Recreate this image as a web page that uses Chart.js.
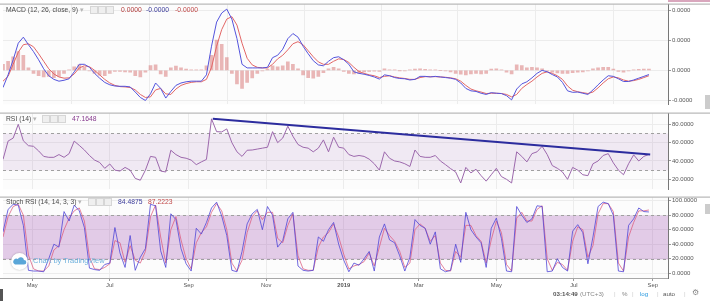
<!DOCTYPE html>
<html>
<head>
<meta charset="utf-8">
<script src="https://cdn.jsdelivr.net/npm/chart.js@4.4.0/dist/chart.umd.min.js"></script>
<style>
body{margin:0;background:#fff;font-family:"Liberation Sans",Arial,sans-serif;}
#wrap{position:relative;width:710px;height:301px;overflow:hidden;background:#fff;}
canvas{position:absolute;left:0;}
.t{position:absolute;white-space:nowrap;font-size:6.75px;line-height:8px;color:#4a4a4a;}
.bx{position:absolute;width:6px;height:6px;border:1px solid #d6d6d6;background:#efefef;}
.st{position:absolute;top:290px;white-space:nowrap;font-size:6.2px;line-height:8px;color:#888;}
</style>
</head>
<body>
<div id="wrap">
  <canvas id="chart_macd" width="710" height="109" style="top:0px"></canvas>
  <canvas id="chart_rsi" width="710" height="85" style="top:109px"></canvas>
  <canvas id="chart_stoch" width="710" height="98" style="top:193px"></canvas>

  <!-- pane legends -->
  <div class="t" style="left:6px;top:6px">MACD (12, 26, close, 9) <span style="color:#b5b5b5">▾</span></div>
  <div class="bx" style="left:90px;top:6px"></div><div class="bx" style="left:98px;top:6px"></div><div class="bx" style="left:106px;top:6px"></div>
  <div class="t" style="left:121px;top:6px;color:#b23b3b">0.0000</div>
  <div class="t" style="left:146px;top:6px;color:#3a3a9a">-0.0000</div>
  <div class="t" style="left:175px;top:6px;color:#c04848">-0.0000</div>

  <div class="t" style="left:6px;top:115px">RSI (14) <span style="color:#b5b5b5">▾</span></div>
  <div class="bx" style="left:42px;top:115px"></div><div class="bx" style="left:50px;top:115px"></div><div class="bx" style="left:58px;top:115px"></div>
  <div class="t" style="left:72px;top:115px;color:#873a8e">47.1648</div>

  <div class="t" style="left:6px;top:198px">Stoch RSI (14, 14, 3, 3) <span style="color:#b5b5b5">▾</span></div>
  <div class="bx" style="left:88px;top:198px"></div><div class="bx" style="left:96px;top:198px"></div><div class="bx" style="left:104px;top:198px"></div>
  <div class="t" style="left:118px;top:198px;color:#3a3a9a">84.4875</div>
  <div class="t" style="left:148px;top:198px;color:#c04848">87.2223</div>

  <!-- watermark -->
  <div style="position:absolute;left:11px;top:253px;width:17px;height:17px;border-radius:50%;background:#fff;box-shadow:0 0 2px rgba(0,0,0,.3)">
    <svg width="17" height="17" viewBox="0 0 17 17"><path d="M4 11.5h9a2.3 2.3 0 0 0 0-4.6 3.3 3.3 0 0 0-6.2-.9A2.6 2.6 0 0 0 4 11.5z" fill="#5aa6d8"/></svg>
  </div>
  <div class="t" style="left:33px;top:257px;font-size:7.5px;color:#6fb1dd">Chart by TradingView</div>

  <!-- status bar -->
  <div class="st" style="left:553px;color:#555;font-weight:bold">03:14:49</div>
  <div class="st" style="left:580px">(UTC+3)</div>
  <div class="st" style="left:614px;color:#ccc">|</div>
  <div class="st" style="left:622px">%</div>
  <div class="st" style="left:632px;color:#ccc">|</div>
  <div class="st" style="left:640px;color:#2a9ae0">log</div>
  <div class="st" style="left:657px;color:#ccc">|</div>
  <div class="st" style="left:663px;color:#555">auto</div>
  <div class="st" style="left:684px;color:#ccc">|</div>
  <div class="st" style="left:692px;font-size:8px;top:289px">⚙</div>

  <div style="position:absolute;left:0;top:289px;width:3px;height:12px;background:#555"></div>
  <div style="position:absolute;left:668px;top:0;width:42px;height:2px;background:#d9a7bd"></div>
  <div style="position:absolute;left:705px;top:95px;width:5px;height:14px;background:#ccc"></div>
  <div style="position:absolute;left:705px;top:204px;width:5px;height:10px;background:#ccc"></div>
</div>

<script>
var FONT = '"Liberation Sans", Arial, sans-serif';
var STEP_DAYS = 4;          // one sample every 4 days, starting 8 Apr 2018

// time axis (days since 8 Apr 2018)
var monthTickDays   = [23, 84, 146, 207, 268, 327, 388, 449, 511];
var monthTickLabels = ["May", "Jul", "Sep", "Nov", "2019", "Mar", "May", "Jul", "Sep"];

// MACD pane, in units of 0.00001
var macdLine = [-0.57,-0.15,0.35,0.9,1.1,0.85,0.62,0.35,0.05,-0.18,
  -0.3,-0.36,-0.33,-0.28,-0.05,0.2,0.2,0.1,-0.1,-0.26,
  -0.4,-0.48,-0.52,-0.53,-0.53,-0.55,-0.72,-0.9,-1.0,-0.78,
  -0.42,-0.6,-0.92,-0.7,-0.5,-0.42,-0.38,-0.36,-0.36,-0.36,
  -0.15,0.8,1.6,1.9,2.03,1.7,1.05,0.2,0.08,0.08,
  0.08,0.08,0.1,0.42,0.5,0.7,1.05,1.22,1.1,0.8,
  0.55,0.32,0.18,0.15,0.3,0.42,0.45,0.35,0.2,-0.05,
  -0.1,-0.13,-0.17,-0.22,-0.29,-0.15,-0.18,-0.24,-0.27,-0.28,
  -0.32,-0.3,-0.2,-0.2,-0.22,-0.2,-0.22,-0.24,-0.26,-0.3,
  -0.42,-0.6,-0.68,-0.7,-0.76,-0.8,-0.74,-0.76,-0.77,-0.84,
  -0.98,-0.62,-0.45,-0.38,-0.25,-0.1,0.0,-0.05,-0.14,-0.22,
  -0.4,-0.68,-0.73,-0.72,-0.76,-0.8,-0.65,-0.48,-0.32,-0.18,
  -0.2,-0.28,-0.37,-0.37,-0.32,-0.26,-0.2,-0.14];
var signalLine = [-0.36,-0.2,0.2,0.6,0.85,0.88,0.78,0.55,0.3,0.05,
  -0.12,-0.22,-0.26,-0.25,-0.12,0.08,0.15,0.12,0.0,-0.15,
  -0.3,-0.42,-0.5,-0.54,-0.55,-0.57,-0.65,-0.8,-0.9,-0.88,
  -0.65,-0.6,-0.78,-0.8,-0.62,-0.5,-0.44,-0.4,-0.38,-0.38,
  -0.3,0.1,0.8,1.35,1.7,1.78,1.5,0.9,0.4,0.18,
  0.1,0.08,0.08,0.2,0.38,0.5,0.68,0.88,0.95,0.85,
  0.65,0.45,0.28,0.2,0.2,0.3,0.38,0.36,0.26,0.1,
  -0.04,-0.1,-0.15,-0.18,-0.24,-0.2,-0.18,-0.22,-0.25,-0.27,
  -0.3,-0.3,-0.24,-0.21,-0.21,-0.21,-0.22,-0.23,-0.25,-0.28,
  -0.36,-0.5,-0.62,-0.68,-0.72,-0.77,-0.76,-0.76,-0.77,-0.8,
  -0.88,-0.8,-0.6,-0.47,-0.36,-0.22,-0.1,-0.05,-0.1,-0.18,
  -0.3,-0.52,-0.66,-0.71,-0.74,-0.77,-0.72,-0.58,-0.42,-0.28,
  -0.22,-0.25,-0.32,-0.36,-0.34,-0.3,-0.24,-0.18];
var macdHist = [0.2,0.3,0.45,0.62,0.5,0.08,-0.1,-0.18,-0.22,-0.2,
  -0.24,-0.2,-0.1,0.02,0.12,0.18,0.1,-0.02,-0.1,-0.16,
  -0.18,-0.1,-0.04,-0.04,-0.05,-0.06,-0.18,-0.22,-0.06,0.16,
  0.18,-0.12,-0.2,0.08,0.14,0.08,0.04,0.02,0.01,0.02,
  0.15,0.5,1.0,0.86,0.42,-0.1,-0.45,-0.6,-0.4,-0.25,
  -0.1,-0.02,0.04,0.15,0.12,0.15,0.28,0.2,0.05,-0.15,
  -0.24,-0.26,-0.2,-0.08,0.05,0.1,0.05,-0.04,-0.1,-0.12,
  -0.1,-0.05,-0.04,-0.03,-0.04,0.05,0.02,0.01,-0.01,-0.02,
  0.02,0.04,0.05,0.03,0.01,0.01,0.0,-0.02,-0.05,-0.1,
  -0.13,-0.15,-0.12,-0.1,-0.12,-0.1,0.04,0.05,0.02,-0.06,
  -0.12,0.18,0.16,0.08,0.1,0.08,0.05,-0.02,-0.06,-0.09,
  -0.1,-0.1,-0.08,-0.06,-0.05,-0.02,0.05,0.08,0.1,0.1,
  0.04,-0.04,-0.06,-0.02,0.02,0.03,0.04,0.04];
var macdTicks = [-1, 0, 1, 2];

// RSI pane
var rsi = [41.7,61.7,65,80,62,56.7,56,51,45,44,
  44,47,44,48,61.7,57,52,46,41,38.4,
  32,36.7,30,29,33,30,21,19,30,45,
  44,29,28,51.7,47,44,43,41,36,39,
  41.7,86,72,71.7,75,60,50,45,51.7,52,
  53,54,55,72,60,65,78,67,58,55,
  54,50,54,63,50,66,55,54,47,45,
  46,45,42,37,30,50,43,40,39,37,
  34,52,45,44,44,46,40,36,31.7,28,
  16,33,27,31,24,18,25,32,23,20,
  16,50,45,39,48,50,56,47,35,32,
  28,20,33,30,25,24,37,40,46,48,
  38,30,25,37,46.7,40,45,47.2];
var rsiTrendDays = [165, 509];
var rsiTrendValues = [86, 47.2];
var rsiBand = [30, 70];
var rsiTicks = [20, 40, 60, 80];

// Stoch RSI pane
var stochK = [57,88,95,94,66,4,3,3,2,20,
  40,36,85,72,94,86,63,7,5,4,
  12,14,63,28,8,52,4,22,34,95,
  93,31,8,82,74,34,13,3,62,54,
  70,90,98,79,52,4,2,30,68,82,
  88,60,92,80,36,45,75,84,10,4,
  3,4,50,44,60,70,40,18,2,14,
  11,20,30,3,50,68,46,42,24,3,
  22,74,66,62,40,57,6,2,4,40,
  15,84,60,50,42,8,62,76,48,3,
  2,92,80,70,75,93,92,2,3,20,
  8,3,58,67,56,13,50,92,98,96,
  80,3,2,66,75,90,85,84.5];
var stochD = [50,78,92,95,80,25,6,3,3,10,
  32,38,60,76,86,90,72,22,6,5,
  8,13,45,42,15,38,18,14,30,78,
  94,50,14,60,78,46,20,6,42,56,
  64,84,96,86,60,14,3,18,56,78,
  86,74,84,84,48,42,66,82,24,6,
  4,4,36,50,56,68,50,26,6,10,
  12,16,28,10,36,62,52,44,30,8,
  14,60,68,62,44,52,14,4,3,30,
  22,66,66,52,44,14,46,72,56,12,
  3,76,84,72,72,88,93,20,4,15,
  12,4,44,64,60,22,38,82,96,96,
  85,14,3,50,70,86,86,87.2];
var stochBand = [20, 80];
var stochTicks = [0, 20, 40, 60, 80, 100];

function points(values) {
    return values.map(function(v, i){ return {x: i * STEP_DAYS, y: v}; });
}

// chart area background, overbought/oversold band, pane separators
var paneDecor = {
    id: 'paneDecor',
    beforeDraw: function(chart) {
        var a = chart.chartArea, ctx = chart.ctx;
        ctx.save();
        ctx.fillStyle = '#fcfcfc';
        ctx.fillRect(a.left, a.top, a.right - a.left, a.bottom - a.top);
        ctx.restore();
    },
    beforeDatasetsDraw: function(chart, args, opts) {
        if (!opts.band) return;
        var a = chart.chartArea, ctx = chart.ctx, y = chart.scales.y;
        var yHi = Math.round(y.getPixelForValue(opts.band[1])) + 0.5;
        var yLo = Math.round(y.getPixelForValue(opts.band[0])) + 0.5;
        ctx.save();
        ctx.fillStyle = opts.fill;
        ctx.fillRect(a.left, yHi, a.right - a.left, yLo - yHi);
        ctx.strokeStyle = '#a0a0a0';
        ctx.lineWidth = 1;
        ctx.setLineDash([3, 3]);
        [yHi, yLo].forEach(function(py){
            ctx.beginPath(); ctx.moveTo(a.left, py); ctx.lineTo(a.right, py); ctx.stroke();
        });
        ctx.restore();
    },
    afterDraw: function(chart, args, opts) {
        var a = chart.chartArea, ctx = chart.ctx;
        ctx.save();
        ctx.strokeStyle = '#a8a8a8';
        ctx.lineWidth = 1;
        ctx.beginPath();
        ctx.moveTo(0, a.top - 0.5); ctx.lineTo(chart.width, a.top - 0.5);
        if (opts.bottomLine) { ctx.moveTo(0, a.bottom + 0.5); ctx.lineTo(a.right, a.bottom + 0.5); }
        ctx.stroke();
        ctx.restore();
    }
};

function timeScale(showLabels) {
    return {
        type: 'linear', min: 0, max: 523, offset: false,
        afterBuildTicks: function(s){ s.ticks = monthTickDays.map(function(v){ return {value: v}; }); },
        afterFit: function(s){ s.height = showLabels ? 13 : 0; },
        grid: {color: '#ececec', drawTicks: showLabels, tickLength: 3, tickColor: '#999'},
        border: {display: false},
        ticks: {
            display: showLabels, autoSkip: false, maxRotation: 0, padding: 1, color: '#555',
            callback: function(v, i){ return monthTickLabels[i]; },
            font: function(c){ return {family: FONT, size: 5.8, weight: monthTickLabels[c.index] === '2019' ? 'bold' : 'normal'}; }
        }
    };
}

function valueScale(min, max, tickValues, fmt) {
    return {
        position: 'right', min: min, max: max,
        afterBuildTicks: function(s){ s.ticks = tickValues.map(function(v){ return {value: v}; }); },
        afterFit: function(s){ s.width = 42; },
        grid: {color: '#ececec', drawTicks: true, tickLength: 3, tickColor: '#999'},
        border: {display: true, color: '#777'},
        ticks: {padding: 1, color: '#555', font: {family: FONT, size: 6}, callback: fmt}
    };
}

function baseOptions(pad, xScale, yScale, decor) {
    return {
        responsive: false, animation: false,
        layout: {padding: pad},
        elements: {point: {radius: 0}, line: {borderWidth: 1, tension: 0}},
        scales: {x: xScale, y: yScale},
        plugins: {legend: {display: false}, tooltip: {enabled: false}, paneDecor: decor}
    };
}

new Chart(document.getElementById('chart_macd'), {
    type: 'bar',
    data: {datasets: [
        {type: 'line', data: points(macdLine), borderColor: '#5454dc', order: 1},
        {type: 'line', data: points(signalLine), borderColor: '#e26666', order: 2},
        {type: 'bar', data: points(macdHist), backgroundColor: 'rgba(214,112,112,0.5)', barThickness: 3, order: 3}
    ]},
    options: baseOptions({top: 2, left: 3, right: 0, bottom: 1}, timeScale(false),
        valueScale(-1.13, 2.18, macdTicks, function(v){ return (v / 100000).toFixed(4); }), {}),
    plugins: [paneDecor]
});

new Chart(document.getElementById('chart_rsi'), {
    type: 'line',
    data: {datasets: [
        {data: rsiTrendDays.map(function(d, i){ return {x: d, y: rsiTrendValues[i]}; }), borderColor: '#2c2c9e', borderWidth: 2},
        {data: points(rsi), borderColor: '#9c68ac'}
    ]},
    options: baseOptions({top: 1, left: 3, right: 0, bottom: 1}, timeScale(false),
        valueScale(9, 91.7, rsiTicks, function(v){ return v.toFixed(4); }),
        {band: rsiBand, fill: 'rgba(150,80,175,0.11)'}),
    plugins: [paneDecor]
});

new Chart(document.getElementById('chart_stoch'), {
    type: 'line',
    data: {datasets: [
        {data: points(stochK), borderColor: 'rgba(80,70,215,0.8)'},
        {data: points(stochD), borderColor: 'rgba(220,90,125,0.75)'}
    ]},
    options: baseOptions({top: 1, left: 3, right: 0, bottom: 0}, timeScale(true),
        valueScale(-6.6, 104.3, stochTicks, function(v){ return v.toFixed(4); }),
        {band: stochBand, fill: 'rgba(155,70,175,0.27)', bottomLine: true}),
    plugins: [paneDecor]
});
</script>
</body>
</html>
